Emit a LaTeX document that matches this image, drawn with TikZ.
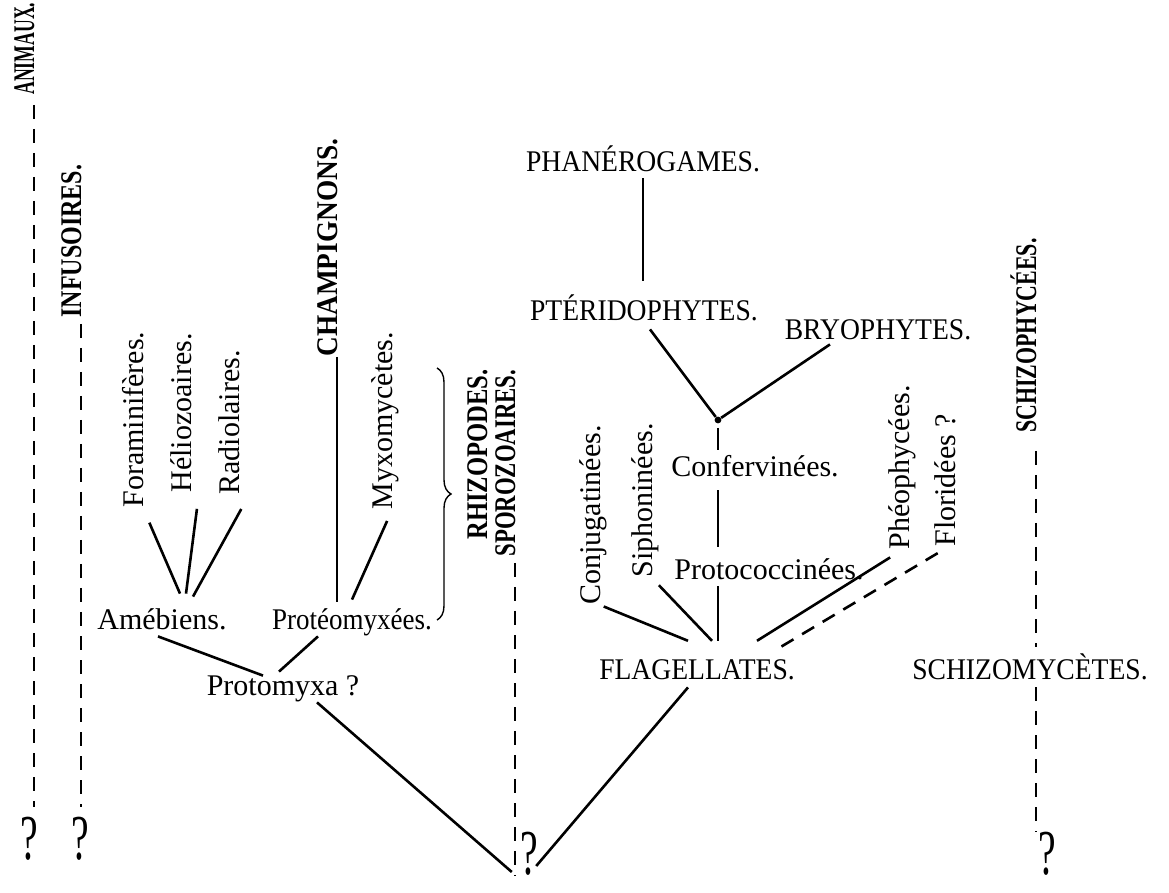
\documentclass[tikz,border=0pt]{standalone}
\usepackage{fontspec}
\usepackage{graphicx}
\setmainfont{Liberation Serif}
\newfontfamily\capsfont[FakeStretch=0.92]{Liberation Serif}
\usetikzlibrary{decorations.pathreplacing}
\newcommand{\squeeze}[2]{\scalebox{#1}[1]{#2}}
\begin{document}
\begin{tikzpicture}[x=0.5pt, y=-0.5pt,
	group/.style = {font=\capsfont\fontsize{15}{17}\selectfont, anchor=base, inner sep=0pt, text height=9.9pt, text depth=0pt},
	taxon/.style = {font=\fontsize{15}{17}\selectfont, anchor=base, inner sep=0pt, text height=10pt, text depth=3pt},
	vgroup/.style = {font=\bfseries\fontsize{15}{17}\selectfont, rotate=90, anchor=base west, inner sep=0pt, text height=9.9pt, text depth=0pt},
	vtaxon/.style = {taxon, rotate=90, anchor=base west},
	query/.style = {font=\fontsize{32}{34}\selectfont, inner sep=0pt},
	link/.style = {line width=1.3pt},
	trail/.style = {line width=1.3pt, dash pattern=on 7pt off 5pt}]
	\useasboundingbox (0,0) rectangle (1169,893);
	\node[group] (phan) at (643,172) {PHANÉROGAMES.};
	\node[group] (pter) at (644,321) {PTÉRIDOPHYTES.};
	\node[group] (bryo) at (878,340) {BRYOPHYTES.};
	\node[group] (flag) at (697,679) {FLAGELLATES.};
	\node[group] (schizm) at (1030,679) {SCHIZOMYCÈTES.};
	\node[taxon] (conf) at (755,477) {Confervinées.};
	\node[taxon] (proto) at (769,580) {Protococcinées.};
	\node[vtaxon] (conj) at (600,605) {Conjugatinées.};
	\node[vtaxon] (siph) at (652,578) {Siphoninées.};
	\node[vtaxon] (pheo) at (909,550) {Phéophycées.};
	\node[vtaxon] (flor) at (955,547) {Floridées ?};
	\node[vgroup] (schizp) at (1036,433) {\squeeze{0.73}{SCHIZOPHYCÉES.}};
	\node[vgroup] (anim) at (34,95) {\squeeze{0.59}{ANIMAUX.}};
	\node[vgroup] (infus) at (81,318) {\squeeze{0.8}{INFUSOIRES.}};
	\node[vtaxon] (fora) at (143,508) {Foraminifères.};
	\node[vtaxon] (helio) at (191,493) {Héliozoaires.};
	\node[vtaxon] (radio) at (239,495) {Radiolaires.};
	\node[vgroup] (champ) at (337,357) {\squeeze{0.91}{CHAMPIGNONS.}};
	\node[vtaxon] (myxo) at (392,510) {Myxomycètes.};
	\node[vgroup] (rhizo) at (487,540) {\squeeze{0.82}{RHIZOPODES.}};
	\node[vgroup] (spor) at (515,557) {\squeeze{0.76}{SPOROZOAIRES.}};
	\node[taxon] (ameb) at (162,630) {Amébiens.};
	\node[taxon] (proteo) at (352,630) {\squeeze{0.9}{Protéomyxées.}};
	\node[taxon] (pmyxa) at (283,696) {Protomyxa ?};
	\node[query] (q1) at (29,839) {\squeeze{0.62}{?}};
	\node[query] (q2) at (80,839) {\squeeze{0.62}{?}};
	\node[query] (q3) at (529,854) {\squeeze{0.62}{?}};
	\node[query] (q4) at (1047,854) {\squeeze{0.62}{?}};
	\node[circle, fill, inner sep=1.2pt] (fork) at (718,420) {};
	\coordinate (flag-top) at ([yshift=9pt]flag.north);
	\coordinate (ameb-fork) at ([xshift=12pt,yshift=8pt]ameb.north);
	\draw[link, shorten <=3pt, shorten >=10pt] (phan.south) -- (phan.south |- pter.north);
	\draw[link, shorten <=5pt] (pter.south) -- (fork);
	\draw[link] ([xshift=-24pt,yshift=-2pt]bryo.south) -- (fork);
	\draw[link, shorten <=2pt, shorten >=3.5pt] (fork) -- (fork |- conf.north);
	\draw[link, shorten <=3.5pt, shorten >=6.5pt] (fork |- conf.south) -- (fork |- proto.north);
	\draw[link] (fork |- proto.south) -- (fork |- flag-top);
	\draw[link, shorten <=2pt] (conj.base west) -- ([xshift=-4.5pt]flag-top);
	\draw[link, shorten <=5pt] (siph.base west) -- ([xshift=7.5pt]flag-top);
	\draw[link, shorten <=7pt] (pheo.west) -- ([xshift=30pt]flag-top);
	\draw[trail, shorten <=6pt] (flor.west) -- ([xshift=42pt,yshift=-3pt]flag-top);
	\draw[link] ([xshift=-4.5pt,yshift=-4pt]flag.south) -- ([xshift=-1pt,yshift=-6pt]q3.east);
	\draw[link, shorten <=8pt] (fora.base west) -- ([xshift=-3pt]ameb-fork);
	\draw[link, shorten <=8pt] ([xshift=4pt]helio.base west) -- (ameb-fork);
	\draw[link, shorten <=8pt] ([xshift=5pt]radio.base west) -- ([xshift=3.5pt,yshift=-1.5pt]ameb-fork);
	\draw[link, shorten >=4pt] (champ.base west) -- (champ.base west |- proteo.north);
	\draw[link, shorten <=6pt] (myxo.base west) -- ([yshift=5pt]proteo.north);
	\draw[link] ([xshift=-2pt]ameb.south) -- ([xshift=-10pt]pmyxa.north);
	\draw[link] ([xshift=-17pt]proteo.south) -- ([xshift=-2pt,yshift=2pt]pmyxa.north);
	\draw[link] ([xshift=17pt]pmyxa.south) -- ([xshift=-4pt,yshift=-9pt]q3.west);
	\draw[trail, shorten <=5pt, shorten >=5pt] (anim.base west) -- (anim.base west |- q1.north);
	\draw[trail, shorten <=3pt, shorten >=5pt] (infus.base west) -- (infus.base west |- q2.north);
	\draw[trail, shorten <=3pt] (spor.base west) -- (spor.base west |- q3.south);
	\draw[trail, shorten <=9pt, shorten >=6pt] (schizp.base west) -- (schizp.base west |- schizm.north);
	\draw[trail, shorten <=4pt] (schizp.base west |- schizm.south) -- (schizp.base west |- q4.north);
	\draw[line width=0.7pt, decorate, decoration={brace, amplitude=7pt}] (437,368) -- (437,620);
\end{tikzpicture}
\end{document}
